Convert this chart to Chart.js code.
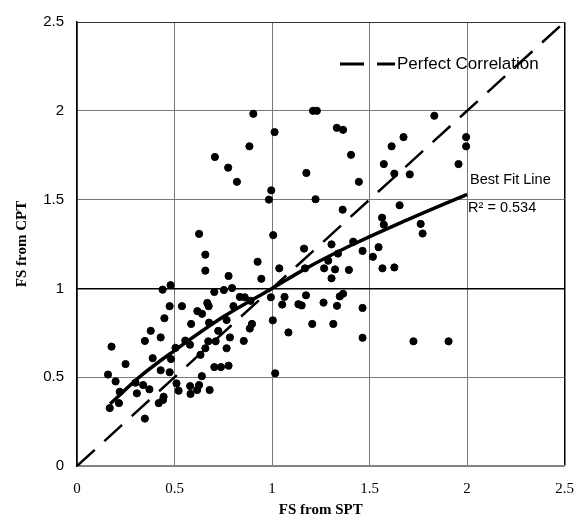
<!DOCTYPE html>
<html>
<head>
<meta charset="utf-8">
<title>FS from SPT vs FS from CPT</title>
<script src="https://cdn.jsdelivr.net/npm/chart.js@4.4.0/dist/chart.umd.min.js"></script>
<style>
    html, body { margin: 0; padding: 0; background: #fff; }
    .chart-box { position: relative; width: 588px; height: 529px; }
</style>
</head>
<body>
<div class="chart-box"><canvas id="fsChart"></canvas></div>
<script>
// measured data: FS from SPT (x) vs FS from CPT (y)
const sptValues = [
    0.707, 0.775, 0.82, 0.626, 0.658, 0.658, 0.904, 1.21, 1.23, 1.013,
    1.332, 1.364, 1.674, 0.884, 1.613, 1.405, 1.573, 1.627, 1.176, 1.445,
    0.996, 0.984, 1.223, 1.654, 1.362, 1.564, 1.573, 1.006, 1.164, 1.305,
    1.416, 1.464, 1.517, 1.546, 1.338, 0.926, 1.037, 1.169, 1.267, 1.323,
    1.394, 1.566, 1.627, 1.288, 0.945, 1.305, 0.994, 1.064, 1.052, 1.174,
    1.135, 1.152, 1.264, 1.347, 1.364, 1.333, 1.464, 1.004, 1.206, 1.314,
    1.084, 1.464, 0.897, 0.886, 0.855, 1.016, 1.725, 1.905, 1.832, 1.995,
    1.995, 1.956, 1.706, 1.762, 1.772, 0.777, 0.48, 0.439, 0.704, 0.753,
    0.795, 0.835, 0.475, 0.538, 0.668, 0.675, 0.802, 0.617, 0.641, 0.448,
    0.585, 0.677, 0.767, 0.378, 0.724, 0.348, 0.429, 0.555, 0.579, 0.673,
    0.711, 0.784, 0.177, 0.767, 0.658, 0.505, 0.388, 0.482, 0.633, 0.249,
    0.704, 0.738, 0.777, 0.429, 0.475, 0.159, 0.64, 0.198, 0.30, 0.339,
    0.371, 0.51, 0.521, 0.58, 0.582, 0.626, 0.616, 0.68, 0.219, 0.307,
    0.215, 0.168, 0.419, 0.441, 0.444, 0.348, 0.86, 0.89
];
const cptValues = [
    1.74, 1.68, 1.60, 1.307, 1.19, 1.10, 1.983, 2.0, 2.0, 1.88,
    1.904, 1.893, 1.852, 1.80, 1.80, 1.752, 1.70, 1.646, 1.65, 1.60,
    1.552, 1.50, 1.502, 1.468, 1.443, 1.398, 1.359, 1.30, 1.224, 1.248,
    1.263, 1.211, 1.178, 1.232, 1.196, 1.15, 1.113, 1.113, 1.113, 1.107,
    1.104, 1.113, 1.118, 1.156, 1.054, 1.057, 0.95, 0.952, 0.909, 0.961,
    0.911, 0.904, 0.92, 0.955, 0.97, 0.902, 0.89, 0.82, 0.80, 0.80,
    0.752, 0.722, 0.80, 0.774, 0.704, 0.522, 0.702, 0.702, 1.972, 1.852,
    1.80, 1.70, 1.642, 1.363, 1.309, 1.07, 1.018, 0.993, 0.98, 0.991,
    1.002, 0.952, 0.90, 0.90, 0.918, 0.90, 0.90, 0.872, 0.857, 0.832,
    0.80, 0.807, 0.822, 0.761, 0.761, 0.704, 0.724, 0.706, 0.683, 0.702,
    0.702, 0.724, 0.672, 0.663, 0.663, 0.665, 0.607, 0.602, 0.626, 0.574,
    0.557, 0.557, 0.565, 0.539, 0.528, 0.515, 0.506, 0.476, 0.469, 0.456,
    0.432, 0.465, 0.424, 0.45, 0.406, 0.456, 0.428, 0.428, 0.418, 0.409,
    0.354, 0.326, 0.354, 0.372, 0.39, 0.267, 0.95, 0.93
];

// best fit curve
const fitX = [0.17, 0.33, 0.5, 0.75, 1.0, 1.17, 1.4, 1.68, 2.0];
const fitY = [0.35, 0.51, 0.65, 0.84, 1.0, 1.11, 1.24, 1.38, 1.53];

// 1:1 line
const perfectX = [0, 2.5];
const perfectY = [0, 2.5];

const axisTicks = [0, 0.5, 1, 1.5, 2, 2.5];
const fitLabel = 'Best Fit Line';
const r2Label = 'R\u00B2 = 0.534';

function toPoints(xs, ys) {
    return xs.map(function(x, i) { return { x: x, y: ys[i] }; });
}

document.addEventListener('DOMContentLoaded', function() {
    const ctx = document.getElementById('fsChart').getContext('2d');

    // legend + text labels drawn inside the plot area
    const notesPlugin = {
        id: 'notes',
        afterDatasetsDraw: function(chart) {
            const c = chart.ctx;
            const xs = chart.scales.x;
            const ys = chart.scales.y;
            c.save();
            c.strokeStyle = '#000';
            c.lineWidth = 3;
            c.setLineDash([24, 13]);
            c.beginPath();
            c.moveTo(340, 64);
            c.lineTo(395, 64);
            c.stroke();
            c.setLineDash([]);
            c.fillStyle = '#000';
            c.textBaseline = 'middle';
            c.textAlign = 'left';
            c.font = '17px "Liberation Sans", Arial, sans-serif';
            c.fillText(chart.data.datasets[1].label, 397, 64);
            c.font = '14.5px "Liberation Sans", Arial, sans-serif';
            c.fillText(fitLabel, xs.getPixelForValue(2.0) + 3, ys.getPixelForValue(1.61));
            c.fillText(r2Label, xs.getPixelForValue(2.0) + 1, ys.getPixelForValue(1.45));
            c.restore();
        }
    };

    const fsChart = new Chart(ctx, {
        type: 'scatter',
        data: {
            datasets: [
                {
                    label: 'Data',
                    data: toPoints(sptValues, cptValues),
                    backgroundColor: '#000',
                    borderColor: '#000',
                    pointRadius: 3.6,
                    pointHoverRadius: 3.6,
                    order: 1
                },
                {
                    label: 'Perfect Correlation',
                    data: toPoints(perfectX, perfectY),
                    showLine: true,
                    borderColor: '#000',
                    borderWidth: 2.5,
                    borderDash: [24, 13],
                    pointRadius: 0,
                    order: 2
                },
                {
                    label: 'Best Fit',
                    data: toPoints(fitX, fitY),
                    showLine: true,
                    borderColor: '#000',
                    borderWidth: 3.5,
                    cubicInterpolationMode: 'monotone',
                    pointRadius: 0,
                    order: 0
                }
            ]
        },
        options: {
            responsive: true,
            maintainAspectRatio: false,
            animation: false,
            layout: {
                padding: { top: 17, right: 21, bottom: 0, left: 0 }
            },
            scales: {
                x: {
                    type: 'linear',
                    min: 0,
                    max: 2.5,
                    afterBuildTicks: function(scale) {
                        scale.ticks = axisTicks.map(function(v) { return { value: v }; });
                    },
                    afterFit: function(scale) { scale.height = 63; },
                    grid: {
                        drawTicks: false,
                        color: function(c) {
                            return (c.tick && (c.tick.value === 0 || c.tick.value === 2.5)) ? '#000' : '#777';
                        },
                        lineWidth: function(c) {
                            return (c.tick && (c.tick.value === 0 || c.tick.value === 2.5)) ? 1.5 : 1;
                        }
                    },
                    border: { color: '#888', width: 1.5 },
                    ticks: {
                        padding: 14,
                        color: '#000',
                        font: { family: '"Liberation Serif", "Times New Roman", serif', size: 15 },
                        callback: function(v) { return String(v); }
                    },
                    title: {
                        display: true,
                        text: 'FS from SPT',
                        color: '#000',
                        padding: { top: 0, bottom: 10 },
                        font: { family: '"Liberation Serif", "Times New Roman", serif', size: 15, weight: 'bold' }
                    }
                },
                y: {
                    type: 'linear',
                    min: 0,
                    max: 2.5,
                    afterBuildTicks: function(scale) {
                        scale.ticks = axisTicks.map(function(v) { return { value: v }; });
                    },
                    afterFit: function(scale) { scale.width = 77; },
                    grid: {
                        drawTicks: false,
                        color: function(c) {
                            if (!c.tick) return '#777';
                            if (c.tick.value === 1) return '#000';
                            return c.tick.value === 2.5 ? '#333' : '#777';
                        },
                        lineWidth: function(c) {
                            return (c.tick && c.tick.value === 1) ? 1.5 : 1;
                        }
                    },
                    border: { color: '#000', width: 1.5 },
                    ticks: {
                        padding: 13,
                        color: '#000',
                        font: { family: '"Liberation Sans", Arial, sans-serif', size: 15 },
                        callback: function(v) { return String(v); }
                    },
                    title: {
                        display: true,
                        text: 'FS from CPT',
                        color: '#000',
                        padding: { top: 13, bottom: 0 },
                        font: { family: '"Liberation Serif", "Times New Roman", serif', size: 15, weight: 'bold' }
                    }
                }
            },
            plugins: {
                legend: { display: false },
                tooltip: { enabled: false }
            }
        },
        plugins: [notesPlugin]
    });
});
</script>
</body>
</html>
